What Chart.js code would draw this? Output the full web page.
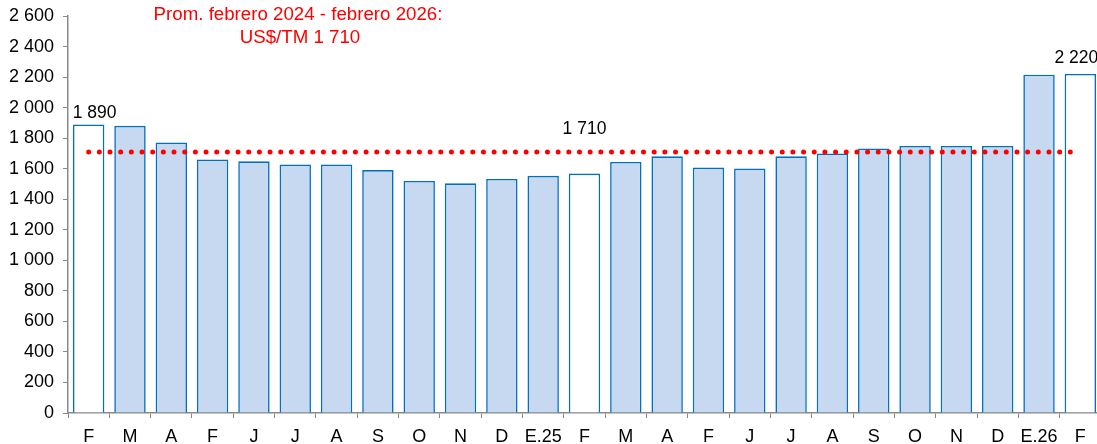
<!DOCTYPE html>
<html lang="es">
<head>
    <meta charset="UTF-8">
    <title>Precio del cobre</title>
    <style>
        body {
            margin: 0;
            background-color: #fff;
        }
        .chart-wrap {
            width: 1097px;
            height: 444px;
            overflow: hidden;
        }
        canvas {
            display: block;
        }
    </style>
</head>
<body>

    <div class="chart-wrap">
        <canvas id="priceChart" width="1101" height="444"></canvas>
    </div>

    <script src="https://cdn.jsdelivr.net/npm/chart.js"></script>

    <script>
        // --- Data ---
        const categories = ['F', 'M', 'A', 'F', 'J', 'J', 'A', 'S', 'O', 'N', 'D', 'E.25',
                            'F', 'M', 'A', 'F', 'J', 'J', 'A', 'S', 'O', 'N', 'D', 'E.26', 'F'];
        const prices = [1890, 1881, 1772, 1661, 1648, 1628, 1628, 1591, 1520, 1504, 1533, 1553,
                        1568, 1644, 1681, 1607, 1602, 1681, 1700, 1733, 1749, 1749, 1749, 2216, 2220];
        const averagePrice = 1710;
        const februaryIdx = [0, 12, 24];   // the months being compared
        const yTickMin = 0;
        const yTickMax = 2600;
        const yTickStep = 200;
        const titleLines = ['Prom. febrero 2024 - febrero 2026:', 'US$/TM 1 710'];

        const FONT = '"Liberation Sans", Arial, sans-serif';
        const AXIS_GREY = '#898989';

        function fmt(v) {
            return String(v).replace(/\B(?=(\d{3})+(?!\d))/g, ' ');
        }

        // labels and title drawn on top of the plot
        const overlayText = {
            id: 'overlayText',
            afterDatasetsDraw(chart) {
                const ctx = chart.ctx;
                const y = chart.scales.y;
                const bars = chart.getDatasetMeta(1).data;
                ctx.save();
                ctx.textAlign = 'center';
                ctx.textBaseline = 'alphabetic';
                ctx.font = '17.5px ' + FONT;
                ctx.fillStyle = '#000';
                ctx.fillText(fmt(prices[0]), bars[0].x + 6, y.getPixelForValue(prices[0]) - 6);
                ctx.fillText(fmt(averagePrice), bars[12].x, y.getPixelForValue(averagePrice) - 18);
                ctx.fillText(fmt(prices[24]), bars[24].x - 4, y.getPixelForValue(prices[24]) - 11);

                ctx.fillStyle = '#FF0000';
                ctx.font = '18.7px ' + FONT;
                ctx.fillText(titleLines[0], 298, 20);
                ctx.fillText(titleLines[1], 300, 42.5);
                ctx.restore();
            }
        };

        const ctx = document.getElementById('priceChart').getContext('2d');
        const priceChart = new Chart(ctx, {
            data: {
                labels: categories,
                datasets: [{
                    type: 'line',
                    label: 'Promedio',
                    data: categories.map(() => averagePrice),
                    borderColor: '#FF0000',
                    borderWidth: 5,
                    borderDash: [0, 10.67],
                    borderCapStyle: 'round',
                    pointRadius: 0,
                    fill: false,
                    order: 0
                }, {
                    type: 'bar',
                    label: 'Precio',
                    data: prices,
                    backgroundColor: prices.map((v, i) => februaryIdx.includes(i) ? '#FFFFFF' : '#C6D9F1'),
                    borderColor: '#0070C0',
                    borderWidth: 1.6,
                    borderSkipped: 'bottom',
                    barPercentage: 0.76,
                    categoryPercentage: 1.0,
                    order: 1
                }]
            },
            options: {
                responsive: false,
                animation: false,
                devicePixelRatio: 1,
                layout: {
                    padding: { top: 16, right: 0, bottom: 0, left: 0 }
                },
                plugins: {
                    legend: { display: false },
                    tooltip: { enabled: false }
                },
                scales: {
                    x: {
                        grid: {
                            display: true,
                            drawOnChartArea: false,
                            drawTicks: true,
                            tickLength: 5,
                            color: AXIS_GREY
                        },
                        border: { display: true, color: AXIS_GREY, width: 1.5 },
                        ticks: {
                            color: '#000',
                            font: { family: FONT, size: 18 },
                            padding: 8,
                            maxRotation: 0,
                            autoSkip: false
                        },
                        afterFit(scale) { scale.height = 31; }
                    },
                    y: {
                        min: yTickMin,
                        max: yTickMax,
                        grid: {
                            display: true,
                            drawOnChartArea: false,
                            drawTicks: true,
                            tickLength: 5,
                            color: AXIS_GREY
                        },
                        border: { display: true, color: AXIS_GREY, width: 1.5 },
                        ticks: {
                            stepSize: yTickStep,
                            color: '#000',
                            font: { family: FONT, size: 18 },
                            padding: 9,
                            callback: (v) => fmt(v)
                        },
                        afterFit(scale) {
                            scale.width = 68;
                            scale.paddingTop = 0;
                            scale.paddingBottom = 0;
                        }
                    }
                }
            },
            plugins: [overlayText]
        });
    </script>
</body>
</html>
